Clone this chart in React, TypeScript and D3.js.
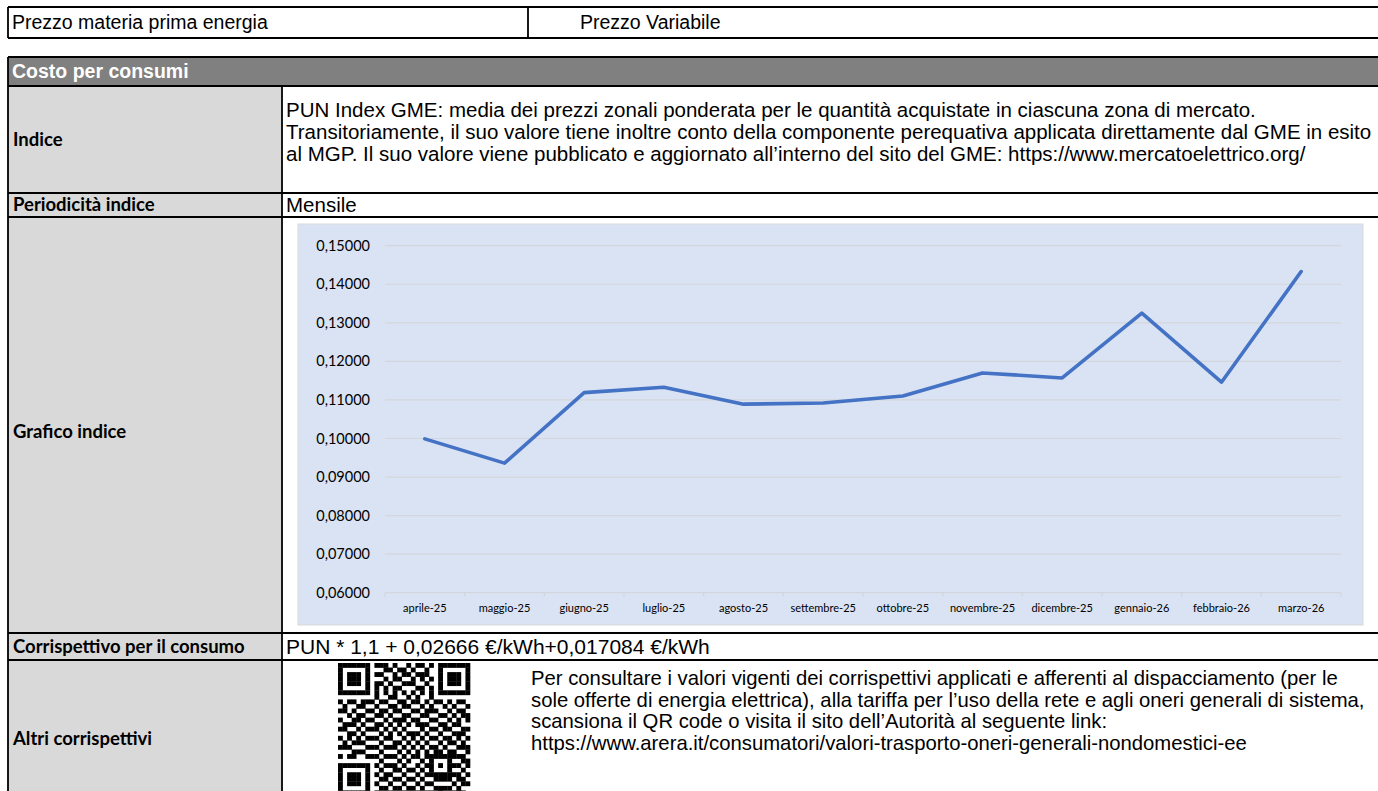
import * as d3 from "d3";
import { useEffect, useRef } from "react";

// PUN index, monthly (€/kWh)
const months = [
  "aprile-25",
  "maggio-25",
  "giugno-25",
  "luglio-25",
  "agosto-25",
  "settembre-25",
  "ottobre-25",
  "novembre-25",
  "dicembre-25",
  "gennaio-26",
  "febbraio-26",
  "marzo-26",
];
const punValues = [
  0.0999, 0.0936, 0.1119, 0.1133, 0.1089, 0.1092, 0.111, 0.117, 0.1157,
  0.1325, 0.1146, 0.1433,
];
const yTicks = [0.06, 0.07, 0.08, 0.09, 0.1, 0.11, 0.12, 0.13, 0.14, 0.15];

const topLeftText = "Prezzo materia prima energia";
const topRightText = "Prezzo Variabile";
const headerText = "Costo per consumi";
const rowLabels = [
  "Indice",
  "Periodicità indice",
  "Grafico indice",
  "Corrispettivo per il consumo",
  "Altri corrispettivi",
];
const indiceLines = [
  "PUN Index GME: media dei prezzi zonali ponderata per le quantità acquistate in ciascuna zona di mercato.",
  "Transitoriamente, il suo valore tiene inoltre conto della componente perequativa applicata direttamente dal GME in esito",
  "al MGP. Il suo valore viene pubblicato e aggiornato all’interno del sito del GME: https://www.mercatoelettrico.org/",
];
const periodicitaText = "Mensile";
const corrispettivoText = "PUN * 1,1 + 0,02666 €/kWh+0,017084 €/kWh";
const altriLines = [
  "Per consultare i valori vigenti dei corrispettivi applicati e afferenti al dispacciamento (per le",
  "sole offerte di energia elettrica), alla tariffa per l’uso della rete e agli oneri generali di sistema,",
  "scansiona il QR code o visita il sito dell’Autorità al seguente link:",
  "https://www.arera.it/consumatori/valori-trasporto-oneri-generali-nondomestici-ee",
];

// qr modules (finder / timing / alignment drawn on top)
const qrRows = [
  "10110100111010010110110100101",
  "01101011001101101001011011010",
  "11010010110010110111000101101",
  "00111101001011001010111010011",
  "10100110110100111001010101110",
  "01011001101011000110101100101",
  "11100110010101101011010011011",
  "00011011100110010100101101100",
  "10110101011001101101011010110",
  "01001110100110110010100101001",
  "11010011011011001101110010110",
  "00101100110100110011001101011",
  "10011011001011101100110010101",
  "01110100110101010111001101100",
  "11001011101010100010110110011",
  "00110110010101011101001001110",
  "10101001101100101010110110101",
  "01011110010011010101001011010",
  "11100001101110101010110100111",
  "00011110010001010101011011001",
  "10110011101110101101100101110",
  "01001100010001010010011010011",
  "11010111101110100101100101101",
  "00101000010011011010011110010",
  "10010111101100100101100001101",
  "01101010011011011010011110110",
  "11010101100100100101100001011",
  "00101010011011011010011110100",
  "10110101100100100101101001110",
];

const ARIAL = "'Liberation Sans', Arial, sans-serif";
const CALIBRI = "Lato, 'Open Sans', sans-serif";

function App() {
  const ref = useRef<SVGSVGElement>(null);

  useEffect(() => {
    const W = 1378;
    const H = 791;
    const left = 8;
    const colX = 282;
    const right = W;

    // row edges
    const top0 = 7,
      top1 = 38;
    const head0 = 57,
      head1 = 86;
    const rowY = [86, 193, 217, 633, 660, 830];

    const svg = d3.select(ref.current);
    svg.selectAll("*").remove();
    svg.attr("width", W).attr("height", H).attr("viewBox", `0 0 ${W} ${H}`);

    svg.append("rect").attr("width", W).attr("height", H).attr("fill", "#fff");

    // header + label column fills
    svg
      .append("rect")
      .attr("x", left)
      .attr("y", head0)
      .attr("width", right - left)
      .attr("height", head1 - head0)
      .attr("fill", "#808080");
    svg
      .append("rect")
      .attr("x", left)
      .attr("y", rowY[0])
      .attr("width", colX - left)
      .attr("height", rowY[5] - rowY[0])
      .attr("fill", "#d9d9d9");

    // texts
    const txt = (
      x: number,
      y: number,
      s: string,
      size: number,
      family = ARIAL,
      weight = "normal",
      fill = "#000"
    ) =>
      svg
        .append("text")
        .attr("x", x)
        .attr("y", y)
        .attr("dy", "0.35em")
        .style("font-family", family)
        .style("font-size", `${size}px`)
        .style("font-weight", weight)
        .attr("fill", fill)
        .text(s);

    txt(12, (top0 + top1) / 2, topLeftText, 19.5);
    txt(580, (top0 + top1) / 2, topRightText, 19.5);
    txt(12, (head0 + head1) / 2, headerText, 19.5, ARIAL, "bold", "#fff");

    const labelY = [140, 205, 432, 647, 739];
    rowLabels.forEach((l, i) => txt(13, labelY[i], l, 18.5, CALIBRI, "bold"));

    indiceLines.forEach((l, i) => txt(286, 110 + i * 22, l, 20.5));
    txt(286, 205, periodicitaText, 20.5);
    txt(286, 647, corrispettivoText, 21);
    altriLines.forEach((l, i) => txt(531, 678 + i * 21.5, l, 20.3));

    // chart
    const cx0 = 298,
      cy0 = 224,
      cx1 = 1363,
      cy1 = 625;
    svg
      .append("rect")
      .attr("x", cx0)
      .attr("y", cy0)
      .attr("width", cx1 - cx0)
      .attr("height", cy1 - cy0)
      .attr("fill", "#dae3f3")
      .attr("stroke", "#d9d9d9")
      .attr("stroke-width", 1);

    const x = d3.scalePoint<string>().domain(months).range([385, 1341]).padding(0.5);
    const y = d3.scaleLinear().domain([0.06, 0.15]).range([592.7, 245.7]);
    const fmt = (v: number) => d3.format(".5f")(v).replace(".", ",");

    const g = svg.append("g");
    g.selectAll("line.grid")
      .data(yTicks.slice(1))
      .join("line")
      .attr("class", "grid")
      .attr("x1", 385)
      .attr("x2", 1341)
      .attr("y1", (d) => y(d))
      .attr("y2", (d) => y(d))
      .attr("stroke", "#d3d6dc")
      .attr("stroke-width", 1.2);

    g.append("line")
      .attr("x1", 385)
      .attr("x2", 1341)
      .attr("y1", y(0.06))
      .attr("y2", y(0.06))
      .attr("stroke", "#d3d6dc")
      .attr("stroke-width", 1.2);

    const step = x.step();
    g.selectAll("line.tick")
      .data(d3.range(months.length + 1))
      .join("line")
      .attr("class", "tick")
      .attr("x1", (i) => 385 + i * step)
      .attr("x2", (i) => 385 + i * step)
      .attr("y1", y(0.06))
      .attr("y2", y(0.06) + 4)
      .attr("stroke", "#d3d6dc")
      .attr("stroke-width", 1.2);

    g.selectAll("text.ylab")
      .data(yTicks)
      .join("text")
      .attr("class", "ylab")
      .attr("x", 370)
      .attr("y", (d) => y(d))
      .attr("dy", "0.35em")
      .attr("text-anchor", "end")
      .style("font-family", CALIBRI)
      .style("font-size", "14.5px")
      .attr("fill", "#000")
      .text((d) => fmt(d));

    g.selectAll("text.xlab")
      .data(months)
      .join("text")
      .attr("class", "xlab")
      .attr("x", (d) => x(d) ?? 0)
      .attr("y", 608)
      .attr("dy", "0.35em")
      .attr("text-anchor", "middle")
      .style("font-family", CALIBRI)
      .style("font-size", "11px")
      .attr("fill", "#000")
      .text((d) => d);

    const line = d3
      .line<number>()
      .x((_, i) => x(months[i]) ?? 0)
      .y((d) => y(d));
    g.append("path")
      .datum(punValues)
      .attr("d", line)
      .attr("fill", "none")
      .attr("stroke", "#4472c4")
      .attr("stroke-width", 3.6)
      .attr("stroke-linejoin", "round")
      .attr("stroke-linecap", "round");

    // qr code
    const qx = 338,
      qy = 663,
      n = 29,
      ms = 132 / n;
    const grid = qrRows.map((r) =>
      r.padEnd(n, "0").slice(0, n).split("").map((c) => c === "1")
    );
    const finder = (r0: number, c0: number) => {
      for (let r = -1; r <= 7; r++)
        for (let c = -1; c <= 7; c++) {
          const rr = r0 + r,
            cc = c0 + c;
          if (rr < 0 || cc < 0 || rr >= n || cc >= n) continue;
          const ring =
            r >= 0 && r <= 6 && c >= 0 && c <= 6 &&
            (r === 0 || r === 6 || c === 0 || c === 6 ||
              (r >= 2 && r <= 4 && c >= 2 && c <= 4));
          grid[rr][cc] = ring;
        }
    };
    finder(0, 0);
    finder(0, n - 7);
    finder(n - 7, 0);
    for (let i = 8; i < n - 8; i++) {
      grid[6][i] = i % 2 === 0;
      grid[i][6] = i % 2 === 0;
    }
    for (let r = -2; r <= 2; r++)
      for (let c = -2; c <= 2; c++)
        grid[22 + r][22 + c] =
          Math.max(Math.abs(r), Math.abs(c)) !== 1;

    const cells: [number, number][] = [];
    grid.forEach((row, r) => row.forEach((v, c) => v && cells.push([r, c])));
    svg
      .append("g")
      .selectAll("rect")
      .data(cells)
      .join("rect")
      .attr("x", (d) => qx + d[1] * ms)
      .attr("y", (d) => qy + d[0] * ms)
      .attr("width", ms + 0.3)
      .attr("height", ms + 0.3)
      .attr("fill", "#000");

    // borders
    const hl = (yy: number, x1 = left, x2 = right) =>
      svg
        .append("line")
        .attr("x1", x1)
        .attr("x2", x2)
        .attr("y1", yy)
        .attr("y2", yy)
        .attr("stroke", "#000")
        .attr("stroke-width", 1.8);
    const vl = (xx: number, y1: number, y2: number) =>
      svg
        .append("line")
        .attr("x1", xx)
        .attr("x2", xx)
        .attr("y1", y1)
        .attr("y2", y2)
        .attr("stroke", "#000")
        .attr("stroke-width", 1.8);

    hl(top0);
    hl(top1);
    vl(left, top0, top1);
    vl(528, top0, top1);

    hl(head0);
    hl(head1);
    rowY.slice(1, 5).forEach((yy) => hl(yy));
    vl(left, head0, H);
    vl(colX, head1, H);

    return () => {
      svg.selectAll("*").remove();
    };
  }, []);

  return (
    <svg
      ref={ref}
      style={{ position: "absolute", left: 0, top: 0, display: "block" }}
    ></svg>
  );
}

export default App;
